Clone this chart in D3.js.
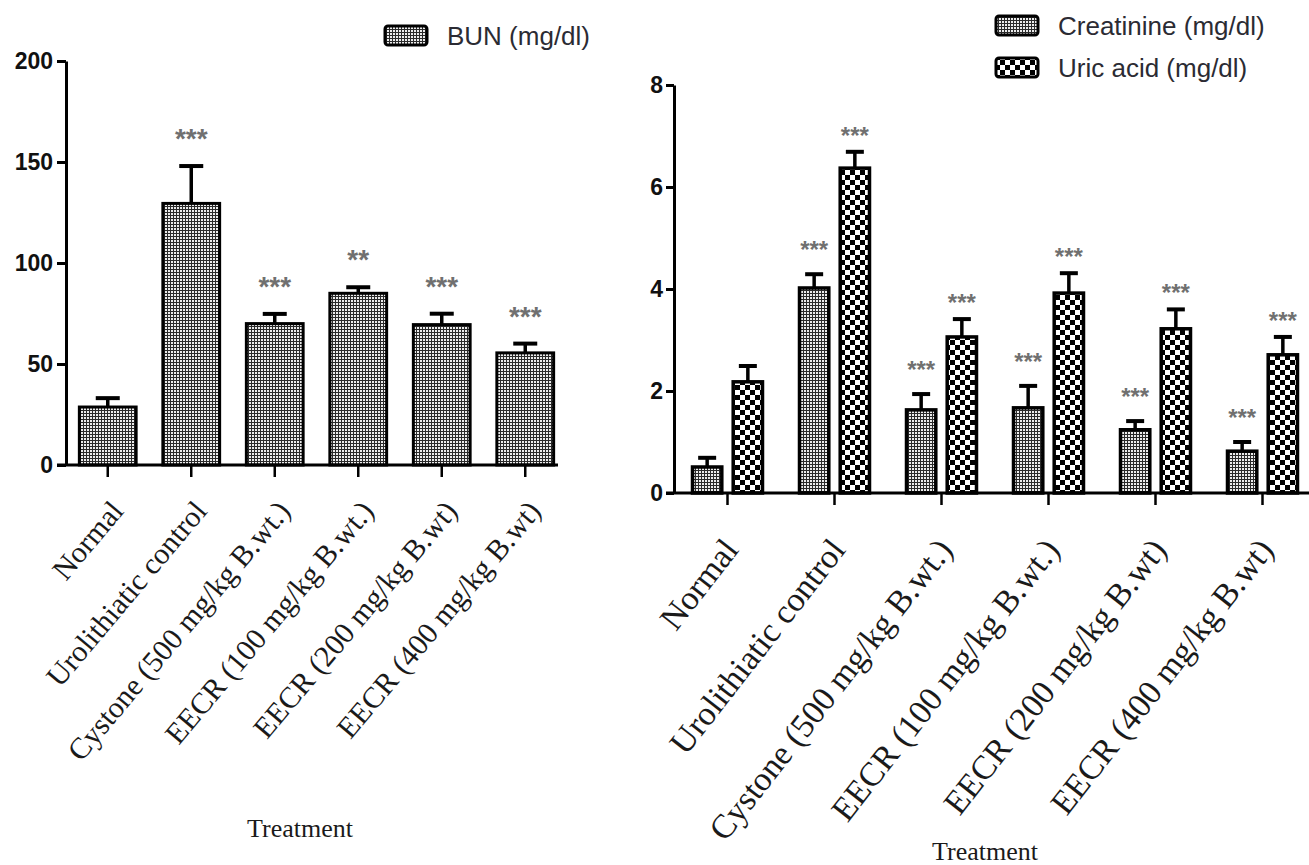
<!DOCTYPE html>
<html>
<head>
<meta charset="utf-8">
<script src="https://cdn.jsdelivr.net/npm/d3@7"></script>
<style>
  html, body { margin: 0; padding: 0; background: #fff; }
  svg { display: block; }
</style>
</head>
<body>
<script>
// ---- data ----
const categories = [
  "Normal",
  "Urolithiatic control",
  "Cystone (500 mg/kg B.wt.)",
  "EECR (100 mg/kg B.wt.)",
  "EECR (200 mg/kg B.wt)",
  "EECR (400 mg/kg B.wt)"
];
const bunMean = [28.7, 129.5, 70, 85, 69.5, 55.5];
const bunSem = [4.4, 18.5, 4.8, 3, 5.4, 4.6];
const bunSig = ["", "***", "***", "**", "***", "***"];

const creatMean = [0.51, 4.02, 1.63, 1.67, 1.24, 0.82];
const creatSem = [0.18, 0.27, 0.31, 0.43, 0.17, 0.18];
const creatSig = ["", "***", "***", "***", "***", "***"];

const uricMean = [2.18, 6.37, 3.06, 3.92, 3.22, 2.71];
const uricSem = [0.31, 0.32, 0.35, 0.39, 0.38, 0.35];
const uricSig = ["", "***", "***", "***", "***", "***"];

const bunTicks = [0, 50, 100, 150, 200];
const renalTicks = [0, 2, 4, 6, 8];
const xTitle = "Treatment";

// ---- layout ----
const W = 1309, H = 865;
const serif = "'Liberation Serif', 'Times New Roman', serif";
const sans = "'Liberation Sans', Arial, sans-serif";

const svg = d3.select("body").append("svg")
  .attr("width", W).attr("height", H)
  .attr("viewBox", `0 0 ${W} ${H}`);

// fill patterns
const defs = svg.append("defs");
const fine = defs.append("pattern").attr("id", "fineDots")
  .attr("patternUnits", "userSpaceOnUse").attr("width", 3).attr("height", 3);
fine.append("rect").attr("width", 3).attr("height", 3).attr("fill", "#2a2a2a");
fine.append("rect").attr("width", 2).attr("height", 2).attr("fill", "#ececec");

const checker = defs.append("pattern").attr("id", "checker")
  .attr("patternUnits", "userSpaceOnUse").attr("width", 10).attr("height", 10);
checker.append("rect").attr("width", 10).attr("height", 10).attr("fill", "#fff");
checker.append("rect").attr("width", 5).attr("height", 5).attr("fill", "#000");
checker.append("rect").attr("x", 5).attr("y", 5).attr("width", 5).attr("height", 5).attr("fill", "#000");

function styleAxis(g) {
  g.select(".domain").attr("stroke", "#000").attr("stroke-width", 3);
  g.selectAll(".tick line").attr("stroke", "#000").attr("stroke-width", 3);
  g.selectAll(".tick text")
    .attr("font-family", sans).attr("font-weight", "bold")
    .attr("font-size", 23).attr("fill", "#111");
}

function starText(g, x, yTop, label, size) {
  g.append("text")
    .attr("x", x).attr("y", yTop + size * 0.58)
    .attr("text-anchor", "middle")
    .attr("font-family", sans).attr("font-weight", "bold")
    .attr("font-size", size).attr("fill", "#707070")
    .text(label);
}

function errorBar(g, cx, yMean, yErr, capW) {
  g.append("line").attr("x1", cx).attr("x2", cx)
    .attr("y1", yMean).attr("y2", yErr)
    .attr("stroke", "#000").attr("stroke-width", 3.5);
  g.append("line").attr("x1", cx - capW / 2).attr("x2", cx + capW / 2)
    .attr("y1", yErr).attr("y2", yErr)
    .attr("stroke", "#000").attr("stroke-width", 4);
}

// slanted category labels ending just below each tick
function categoryLabels(g, xScale, baseY, dx, dy, angle, size) {
  g.selectAll("text.cat").data(categories).join("text")
    .attr("class", "cat")
    .attr("transform", d => `translate(${xScale(d) + xScale.bandwidth() / 2 + dx},${baseY + dy}) rotate(${-angle})`)
    .attr("text-anchor", "end")
    .attr("dy", "0.35em")
    .attr("font-family", serif).attr("font-size", size).attr("fill", "#1a1a1a")
    .text(d => d);
}

function legendItem(g, x, y, fillId, label) {
  g.append("rect").attr("x", x).attr("y", y).attr("width", 42).attr("height", 19)
    .attr("rx", 3).attr("fill", `url(#${fillId})`)
    .attr("stroke", "#000").attr("stroke-width", 3);
  g.append("text").attr("x", x + 62).attr("y", y + 19)
    .attr("font-family", sans).attr("font-size", 26).attr("fill", "#2b2b33")
    .text(label);
}

// ---- left panel: BUN ----
{
  const g = svg.append("g");
  const x0 = 66, x1 = 567, y0 = 465, y1 = 61;
  const x = d3.scaleBand().domain(categories).range([x0, x1])
    .paddingInner(0.32).paddingOuter(0.16);
  const y = d3.scaleLinear().domain([0, 200]).range([y0, y1]);

  // bars
  g.selectAll("rect.bar").data(categories).join("rect")
    .attr("class", "bar")
    .attr("x", d => x(d))
    .attr("y", (d, i) => y(bunMean[i]))
    .attr("width", x.bandwidth())
    .attr("height", (d, i) => y(0) - y(bunMean[i]))
    .attr("fill", "url(#fineDots)")
    .attr("stroke", "#000").attr("stroke-width", 3);

  categories.forEach((c, i) => {
    const cx = x(c) + x.bandwidth() / 2;
    const top = y(bunMean[i] + bunSem[i]);
    errorBar(g, cx, y(bunMean[i]), top, 24);
    if (bunSig[i]) starText(g, cx, top - 34, bunSig[i], 28);
  });

  // axes
  const ay = g.append("g").attr("transform", `translate(${x0},0)`)
    .call(d3.axisLeft(y).tickValues(bunTicks).tickSize(9).tickSizeOuter(0).tickPadding(4));
  styleAxis(ay);
  g.append("line").attr("x1", x0 - 9).attr("x2", 558)
    .attr("y1", y0).attr("y2", y0)
    .attr("stroke", "#000").attr("stroke-width", 3);
  const ax = g.append("g").attr("transform", `translate(0,${y0})`)
    .call(d3.axisBottom(x).tickSize(12).tickSizeOuter(0).tickFormat(""));
  ax.select(".domain").remove();
  ax.selectAll(".tick line").attr("stroke", "#000").attr("stroke-width", 2.5);

  categoryLabels(g, x, y0, 9, 40, 50, 30);

  g.append("text").attr("x", 300).attr("y", 837).attr("text-anchor", "middle")
    .attr("font-family", serif).attr("font-size", 26).attr("fill", "#1a1a1a")
    .text(xTitle);

  legendItem(g, 385, 26, "fineDots", "BUN (mg/dl)");
}

// ---- right panel: Creatinine & Uric acid ----
{
  const g = svg.append("g");
  const x0 = 674, x1 = 1316, y0 = 493, y1 = 85;
  const series = ["creat", "uric"];
  const means = { creat: creatMean, uric: uricMean };
  const sems = { creat: creatSem, uric: uricSem };
  const sigs = { creat: creatSig, uric: uricSig };
  const fills = { creat: "fineDots", uric: "checker" };

  const x = d3.scaleBand().domain(categories).range([x0, x1]);
  const groupW = 70;
  const xs = d3.scaleBand().domain(series).range([0, groupW]).paddingInner(0.28);
  const y = d3.scaleLinear().domain([0, 8]).range([y0, y1]);

  categories.forEach((c, i) => {
    const gx = x(c) + (x.bandwidth() - groupW) / 2;
    series.forEach(s => {
      const v = means[s][i];
      g.append("rect")
        .attr("x", gx + xs(s)).attr("y", y(v))
        .attr("width", xs.bandwidth()).attr("height", y(0) - y(v))
        .attr("fill", `url(#${fills[s]})`)
        .attr("stroke", "#000").attr("stroke-width", 3.5);
    });
    series.forEach(s => {
      const v = means[s][i];
      const cx = gx + xs(s) + xs.bandwidth() / 2;
      const top = y(v + sems[s][i]);
      errorBar(g, cx, y(v), top, 18);
      if (sigs[s][i]) starText(g, cx, top - (s === "creat" ? 30 : 22), sigs[s][i], 24);
    });
  });

  const ay = g.append("g").attr("transform", `translate(${x0},0)`)
    .call(d3.axisLeft(y).tickValues(renalTicks).tickSize(8).tickSizeOuter(0).tickPadding(3));
  styleAxis(ay);
  g.append("line").attr("x1", x0 - 8).attr("x2", W)
    .attr("y1", y0).attr("y2", y0)
    .attr("stroke", "#000").attr("stroke-width", 3);
  const ax = g.append("g").attr("transform", `translate(0,${y0})`)
    .call(d3.axisBottom(x).tickSize(12).tickSizeOuter(0).tickFormat(""));
  ax.select(".domain").remove();
  ax.selectAll(".tick line").attr("stroke", "#000").attr("stroke-width", 2.5);

  categoryLabels(g, x, y0, 3, 50, 52, 34);

  g.append("text").attr("x", 985).attr("y", 860).attr("text-anchor", "middle")
    .attr("font-family", serif).attr("font-size", 26).attr("fill", "#1a1a1a")
    .text(xTitle);

  legendItem(g, 996, 16, "fineDots", "Creatinine (mg/dl)");
  legendItem(g, 996, 58, "checker", "Uric acid (mg/dl)");
}
</script>
</body>
</html>
